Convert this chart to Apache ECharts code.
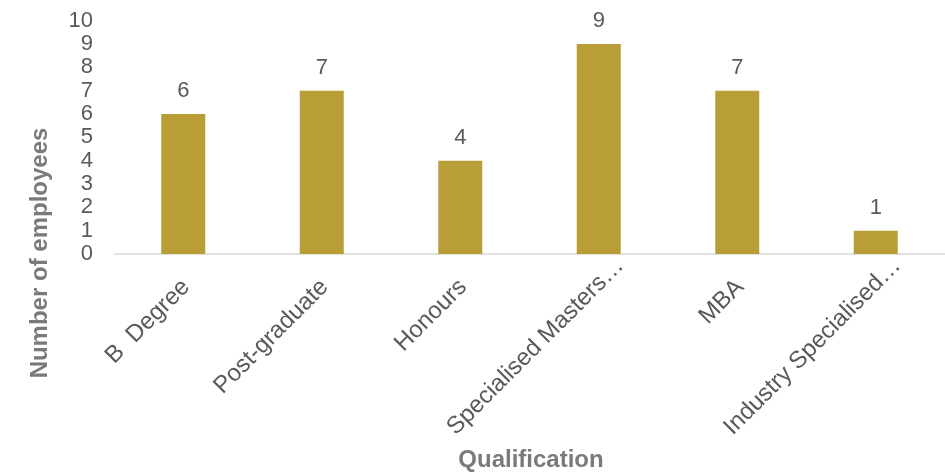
<!DOCTYPE html>
<html>
<head>
<meta charset="utf-8">
<title>Number of employees by qualification</title>
<script src="https://cdn.jsdelivr.net/npm/echarts@6/dist/echarts.min.js"></script>
<style>
  html, body { margin: 0; padding: 0; background: #ffffff; }
  #chart { width: 945px; height: 473px; }
</style>
</head>
<body>
<div id="chart"></div>
<script>
// Qualification categories (long names shown shortened, as on the axis)
const categories = ['B  Degree', 'Post-graduate', 'Honours', 'Specialised Masters\u2026', 'MBA', 'Industry Specialised\u2026'];
// Number of employees holding each qualification
const employees = [6, 7, 4, 9, 7, 1];
// Value axis ticks
const yTicks = [0, 1, 2, 3, 4, 5, 6, 7, 8, 9, 10];

const FONT = '"Liberation Sans", Arial, sans-serif';
const TEXT = '#595959';
const TITLE = '#7a7a7a';
const BAR = '#B99D37';

const chart = echarts.init(document.getElementById('chart'), null, { renderer: 'canvas' });

chart.setOption({
  animation: false,
  backgroundColor: '#ffffff',
  grid: { left: 114, top: 20.7, width: 838, height: 233.3, containLabel: false },
  xAxis: {
    type: 'category',
    data: categories,
    axisLine: { show: true, lineStyle: { color: '#D9D9D9', width: 1.5 } },
    axisTick: { show: false },
    axisLabel: {
      rotate: 45,
      interval: 0,
      margin: -13,
      verticalAlign: 'top',
      padding: [18, 0, 0, 0],
      color: TEXT,
      fontFamily: FONT,
      fontSize: 24,
      // shortened names sit flush with the tick; full names are set back a little
      formatter: function (value) {
        return value.endsWith('\u2026') ? '{cut|' + value + '}' : '{full|' + value + '}';
      },
      rich: {
        cut: { color: TEXT, fontFamily: FONT, fontSize: 24 },
        full: { color: TEXT, fontFamily: FONT, fontSize: 24, padding: [2, 28, 0, 0] }
      }
    }
  },
  yAxis: {
    type: 'value',
    min: yTicks[0],
    max: yTicks[yTicks.length - 1],
    interval: 1,
    axisLine: { show: false },
    axisTick: { show: false },
    splitLine: { show: false },
    axisLabel: {
      margin: 21,
      color: TEXT,
      fontFamily: FONT,
      fontSize: 22
    }
  },
  series: [{
    type: 'bar',
    data: employees,
    barWidth: 44,
    itemStyle: { color: BAR },
    label: {
      show: true,
      position: 'top',
      distance: 12,
      color: TEXT,
      fontFamily: FONT,
      fontSize: 22
    }
  }],
  graphic: [
    {
      type: 'text',
      x: 40,
      y: 253,
      rotation: Math.PI / 2,
      style: {
        text: 'Number of employees',
        fill: TITLE,
        font: 'bold 24px ' + FONT,
        align: 'center',
        verticalAlign: 'middle'
      }
    },
    {
      type: 'text',
      x: 531,
      y: 460,
      style: {
        text: 'Qualification',
        fill: TITLE,
        font: 'bold 24px ' + FONT,
        align: 'center',
        verticalAlign: 'middle'
      }
    }
  ]
});
</script>
</body>
</html>
